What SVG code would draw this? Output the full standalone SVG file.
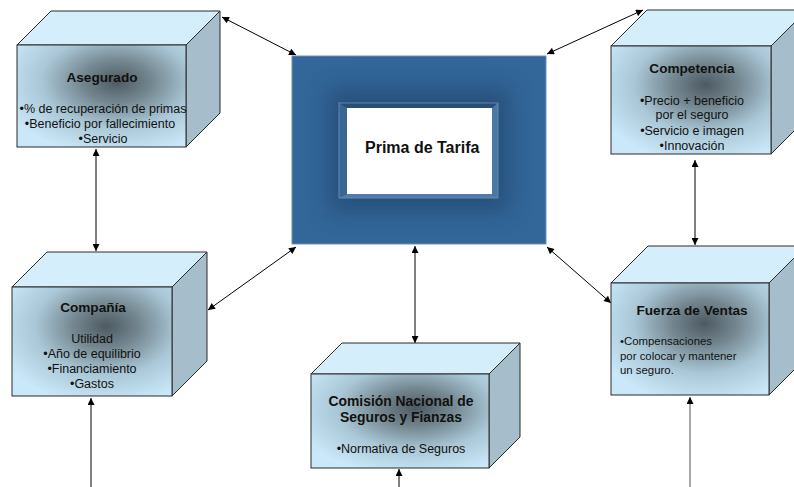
<svg xmlns="http://www.w3.org/2000/svg" width="794" height="487" viewBox="0 0 794 487">
  <defs>
    <style>
      .top { fill: #d5eefb; stroke: #2b2b2b; stroke-width: 1; stroke-linejoin: round; }
      .side { fill: #a6bdcb; stroke: #2b2b2b; stroke-width: 1; stroke-linejoin: round; }
      .front { fill: url(#faceShade); stroke: #2b2b2b; stroke-width: 1; }
      .head { font-family: "Liberation Sans", Arial, sans-serif; font-weight: bold; font-size: 13.6px; fill: #111; }
      .body { font-family: "Liberation Sans", Arial, sans-serif; font-size: 12.5px; fill: #111; }
      .small { font-size: 11.4px; }
      .mid { text-anchor: middle; }
      .link { stroke: #000; stroke-width: 1; fill: none; }
    </style>
    <radialGradient id="faceShade" cx="0.59" cy="0.36" r="0.72">
      <stop offset="0" stop-color="#4e5a62"/>
      <stop offset="0.28" stop-color="#73868f"/>
      <stop offset="0.62" stop-color="#aac7d7"/>
      <stop offset="1" stop-color="#cbe8fa"/>
    </radialGradient>
    <filter id="soft" x="-30%" y="-30%" width="160%" height="160%">
      <feGaussianBlur stdDeviation="11"/>
    </filter>
    <marker id="head" viewBox="0 0 10 10" refX="10" refY="5" markerWidth="9" markerHeight="7" markerUnits="userSpaceOnUse" orient="auto-start-reverse">
      <path d="M0,0 L10,5 L0,10 z" fill="#000"/>
    </marker>
  </defs>

  <rect width="794" height="487" fill="#ffffff"/>

  <!-- connectors -->
  <g id="connectors">
    <line class="link" x1="222" y1="17" x2="296" y2="55" marker-start="url(#head)" marker-end="url(#head)"/>
    <line class="link" x1="643" y1="10" x2="547" y2="54" marker-start="url(#head)" marker-end="url(#head)"/>
    <line class="link" x1="96" y1="149" x2="96" y2="251" marker-start="url(#head)" marker-end="url(#head)"/>
    <line class="link" x1="208" y1="310" x2="296" y2="247" marker-start="url(#head)" marker-end="url(#head)"/>
    <line class="link" x1="415" y1="246" x2="415" y2="343" marker-start="url(#head)" marker-end="url(#head)"/>
    <line class="link" x1="695" y1="160" x2="695" y2="245" marker-start="url(#head)" marker-end="url(#head)"/>
    <line class="link" x1="547" y1="247" x2="611" y2="303" marker-start="url(#head)" marker-end="url(#head)"/>
    <line class="link" x1="91" y1="490" x2="91" y2="398" marker-end="url(#head)"/>
    <line class="link" x1="399" y1="490" x2="399" y2="469" marker-end="url(#head)"/>
    <line class="link" x1="690" y1="490" x2="690" y2="397" style="stroke:#555" marker-end="url(#head)"/>
  </g>

  <!-- central node -->
  <g id="prima-de-tarifa">
    <rect x="292" y="56" width="254" height="188" fill="#336699" stroke="#6a90b8" stroke-width="1"/>
    <rect x="328" y="88" width="182" height="124" fill="#1f3f63" opacity="0.55" filter="url(#soft)"/>
    <polygon points="339,103 498,103 492,108 347,108" fill="#2a4d75"/>
    <polygon points="339,103 347,108 347,194 339,198" fill="#3a6692"/>
    <polygon points="498,103 498,198 492,194 492,108" fill="#4a78a5"/>
    <polygon points="339,198 498,198 492,194 347,194" fill="#4f7ca8"/>
    <rect x="339" y="103" width="159" height="95" fill="none" stroke="#6d92b9" stroke-width="0.8"/>
    <rect x="347" y="108" width="145" height="86" fill="#ffffff"/>
    <text x="365" y="153" class="head" style="font-size:16px">Prima de Tarifa</text>
  </g>

  <!-- Asegurado -->
  <g id="asegurado">
    <polygon class="top" points="17,45 51,11 220,11 186,45"/>
    <polygon class="side" points="186,45 220,11 220,113 186,147"/>
    <rect class="front" x="17" y="45" width="169" height="102"/>
    <text x="102" y="82" class="head mid">Asegurado</text>
    <text x="103" y="113" class="body mid">•% de recuperación de primas</text>
    <text x="100" y="128" class="body mid">•Beneficio por fallecimiento</text>
    <text x="103" y="143" class="body mid">•Servicio</text>
  </g>

  <!-- Compañía -->
  <g id="compania">
    <polygon class="top" points="12,287 47,252 207,252 172,287"/>
    <polygon class="side" points="172,287 207,252 207,361 172,396"/>
    <rect class="front" x="12" y="287" width="160" height="109"/>
    <text x="93" y="312" class="head mid">Compañía</text>
    <text x="92" y="343" class="body mid">Utilidad</text>
    <text x="92" y="358" class="body mid">•Año de equilibrio</text>
    <text x="92" y="373" class="body mid">•Financiamiento</text>
    <text x="92" y="388" class="body mid">•Gastos</text>
  </g>

  <!-- Competencia -->
  <g id="competencia">
    <polygon class="top" points="611,46 647,10 807,10 771,46"/>
    <polygon class="side" points="771,46 807,10 807,118 771,154"/>
    <rect class="front" x="611" y="46" width="160" height="108"/>
    <text x="692" y="73" class="head mid">Competencia</text>
    <text x="692" y="104.5" class="body mid">•Precio + beneficio</text>
    <text x="692" y="119" class="body mid">por el seguro</text>
    <text x="692" y="134.5" class="body mid">•Servicio e imagen</text>
    <text x="692" y="149.5" class="body mid">•Innovación</text>
  </g>

  <!-- Fuerza de Ventas -->
  <g id="fuerza-de-ventas">
    <polygon class="top" points="611,283 648,246 806,246 769,283"/>
    <polygon class="side" points="769,283 806,246 806,358 769,395"/>
    <rect class="front" x="611" y="283" width="158" height="112"/>
    <text x="692" y="315" class="head mid">Fuerza de Ventas</text>
    <text x="620" y="345" class="body small">•Compensaciones</text>
    <text x="620" y="360" class="body small">por colocar y mantener</text>
    <text x="620" y="374" class="body small">un seguro.</text>
  </g>

  <!-- Comisión Nacional de Seguros y Fianzas -->
  <g id="cnsf">
    <polygon class="top" points="311,374 342,343 520,343 489,374"/>
    <polygon class="side" points="489,374 520,343 520,437 489,468"/>
    <rect class="front" x="311" y="374" width="178" height="94"/>
    <text x="401" y="406" class="head mid" style="font-size:13.9px">Comisión Nacional de</text>
    <text x="401" y="422" class="head mid" style="font-size:13.9px">Seguros y Fianzas</text>
    <text x="401" y="453" class="body mid">•Normativa de Seguros</text>
  </g>
</svg>
